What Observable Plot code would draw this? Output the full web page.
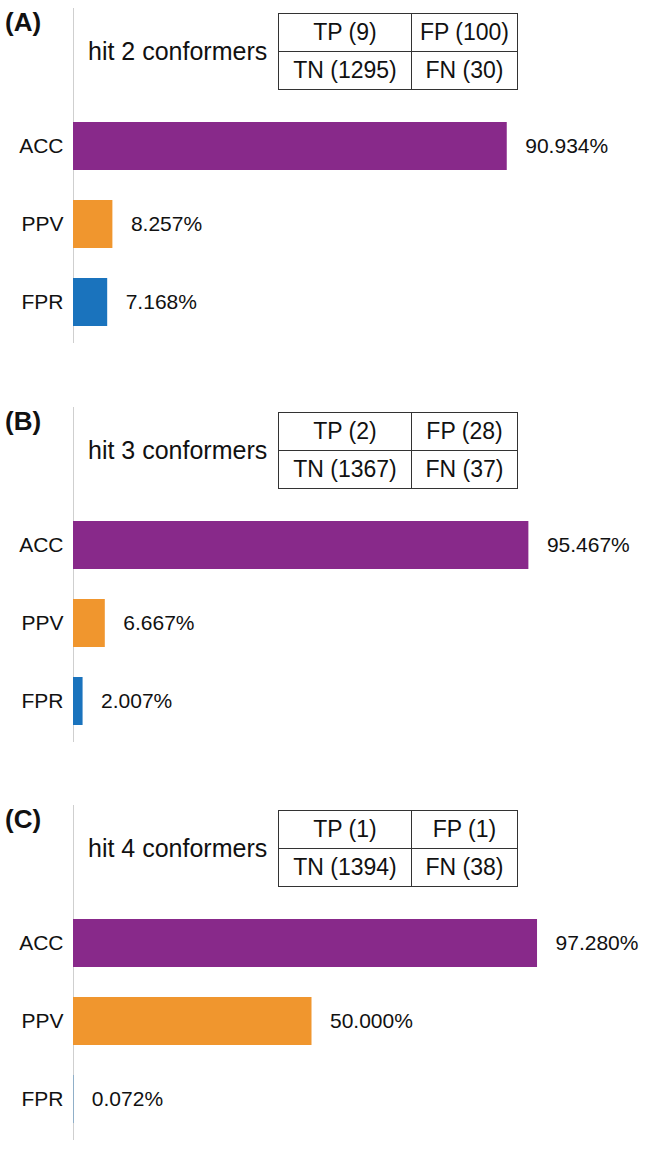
<!DOCTYPE html>
<html>
<head>
<meta charset="utf-8">
<script src="https://cdn.jsdelivr.net/npm/d3@7"></script>
<script src="https://cdn.jsdelivr.net/npm/@observablehq/plot@0.6"></script>
<style>
  html, body { margin: 0; padding: 0; background: #fff; }
  body { width: 652px; height: 1149px; overflow: hidden; position: relative;
         font-family: "Liberation Sans", Arial, sans-serif; color: #111; }
  .panel { position: absolute; left: 0; width: 652px; height: 399px; }
  .panel svg { position: absolute; left: 0; top: 0; }
  .tag { position: absolute; left: 5px; top: 9px; font-size: 26px; font-weight: bold; line-height: 26px; }
  .hit { position: absolute; left: 88px; top: 39px; font-size: 25px; line-height: 25px; white-space: nowrap; }
  .cm { position: absolute; left: 278px; top: 13px; width: 240px; height: 77px; box-sizing: border-box;
        border: 1.4px solid #333; display: grid; grid-template-columns: 133px 1fr; grid-template-rows: 1fr 1fr; }
  .cm div { display: flex; align-items: center; justify-content: center; font-size: 23px; line-height: 23px; white-space: nowrap; }
  .cm .l { border-right: 1.4px solid #333; }
  .cm .t { border-bottom: 1.4px solid #333; }
</style>
</head>
<body>
<script>
// ---- data ----
const panelTags = ["(A)", "(B)", "(C)"];
const hitLabels = ["hit 2 conformers", "hit 3 conformers", "hit 4 conformers"];
const TP = [9, 2, 1];
const FP = [100, 28, 1];
const TN = [1295, 1367, 1394];
const FN = [30, 37, 38];
const metrics = ["ACC", "PPV", "FPR"];
const ACC = [90.934, 95.467, 97.280];
const PPV = [8.257, 6.667, 50.000];
const FPR = [7.168, 2.007, 0.072];
const metricColors = ["#88298A", "#F0962E", "#1A73BD"];

const panelTops = [0, 399, 797];
const series = {ACC, PPV, FPR};

panelTags.forEach((tag, i) => {
  const panel = document.createElement("div");
  panel.className = "panel";
  panel.style.top = panelTops[i] + "px";
  document.body.appendChild(panel);

  const rows = metrics.map(m => ({metric: m, value: series[m][i]}));

  const chart = Plot.plot({
    width: 652,
    height: 351,
    marginTop: 8,
    marginBottom: 8,
    marginLeft: 73,
    marginRight: 102,
    style: {fontFamily: '"Liberation Sans", Arial, sans-serif', fontSize: "21px", color: "#111", background: "transparent", overflow: "visible"},
    x: {domain: [0, 100], axis: null},
    y: {domain: metrics, range: [122, 326], paddingInner: 0.39, paddingOuter: 0, label: null, tickSize: 0, tickPadding: 10},
    color: {domain: metrics, range: metricColors},
    marks: [
      Plot.ruleX([0], {stroke: "#cfcfcf", strokeWidth: 1}),
      Plot.barX(rows, {x: "value", y: "metric", fill: "metric"}),
      Plot.text(rows, {x: "value", y: "metric", text: d => d.value.toFixed(3) + "%", textAnchor: "start", dx: 18, fontSize: 21, fill: "#111"})
    ]
  });
  panel.appendChild(chart);

  const t = document.createElement("div");
  t.className = "tag"; t.textContent = tag; panel.appendChild(t);

  const h = document.createElement("div");
  h.className = "hit"; h.textContent = hitLabels[i]; panel.appendChild(h);

  const cm = document.createElement("div");
  cm.className = "cm";
  const cells = [
    [`TP (${TP[i]})`, "l t"], [`FP (${FP[i]})`, "t"],
    [`TN (${TN[i]})`, "l"], [`FN (${FN[i]})`, ""]
  ];
  cells.forEach(([txt, cls]) => {
    const c = document.createElement("div");
    if (cls) c.className = cls;
    c.textContent = txt;
    cm.appendChild(c);
  });
  panel.appendChild(cm);
});
</script>
</body>
</html>
